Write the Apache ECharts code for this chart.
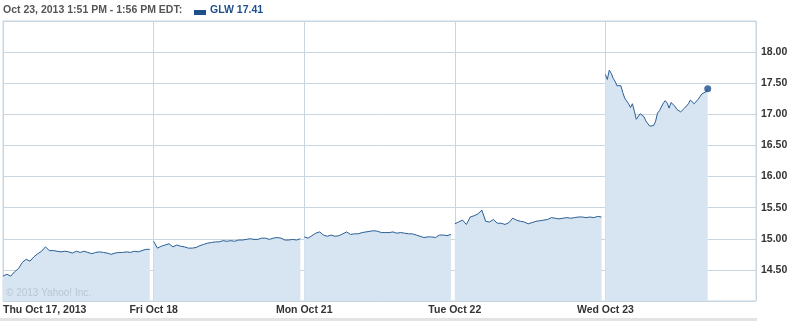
<!DOCTYPE html>
<html>
<head>
<meta charset="utf-8">
<script src="https://cdn.jsdelivr.net/npm/echarts@6/dist/echarts.min.js"></script>
<style>
html,body{margin:0;padding:0;background:#fff;}
#chart{width:799px;height:321px;}
</style>
</head>
<body>
<div id="chart"></div>
<script>
// ---- data ----
const dayLabels = ['Thu Oct 17, 2013', 'Fri Oct 18', 'Mon Oct 21', 'Tue Oct 22', 'Wed Oct 23'];
const yTicks = ['14.50', '15.00', '15.50', '16.00', '16.50', '17.00', '17.50', '18.00'];
const sessionMinutes = 390; // 9:30 - 16:00
const stepMinutes = [10, 10, 10, 10, 5];

const thu = [14.40, 14.43, 14.40, 14.47, 14.52, 14.62, 14.67, 14.64, 14.71, 14.76,
             14.80, 14.87, 14.81, 14.81, 14.80, 14.79, 14.80, 14.79, 14.77, 14.80,
             14.78, 14.80, 14.78, 14.76, 14.78, 14.79, 14.78, 14.77, 14.75, 14.77,
             14.78, 14.78, 14.79, 14.78, 14.80, 14.79, 14.81, 14.83, 14.83];
const fri = [14.96, 14.85, 14.88, 14.90, 14.92, 14.87, 14.90, 14.88, 14.87, 14.85,
             14.85, 14.86, 14.89, 14.91, 14.93, 14.94, 14.95, 14.95, 14.97, 14.96,
             14.97, 14.96, 14.98, 14.98, 14.99, 15.00, 14.99, 14.99, 15.01, 15.01,
             14.99, 15.01, 15.02, 15.01, 14.98, 14.98, 14.99, 14.98, 15.00];
const mon = [15.03, 15.01, 15.05, 15.09, 15.11, 15.06, 15.04, 15.06, 15.04, 15.05,
             15.08, 15.11, 15.07, 15.08, 15.08, 15.10, 15.11, 15.12, 15.13, 15.12,
             15.10, 15.10, 15.10, 15.11, 15.09, 15.10, 15.09, 15.08, 15.08, 15.06,
             15.04, 15.02, 15.03, 15.03, 15.02, 15.06, 15.06, 15.05, 15.07];
const tue = [15.24, 15.27, 15.30, 15.23, 15.35, 15.37, 15.40, 15.46, 15.28, 15.27,
             15.31, 15.25, 15.25, 15.23, 15.26, 15.33, 15.30, 15.28, 15.27, 15.24,
             15.26, 15.28, 15.29, 15.30, 15.31, 15.34, 15.33, 15.32, 15.33, 15.34,
             15.33, 15.34, 15.35, 15.35, 15.34, 15.35, 15.34, 15.36, 15.35];
const wed = [17.64, 17.56, 17.71, 17.66, 17.58, 17.53, 17.46, 17.44, 17.46, 17.35,
             17.26, 17.24, 17.17, 17.11, 17.17, 17.05, 16.92, 16.90, 17.01, 17.04,
             16.96, 16.89, 16.86, 16.81, 16.78, 16.82, 16.89, 17.02, 17.06, 17.08,
             17.18, 17.22, 17.18, 17.10, 17.19, 17.17, 17.13, 17.08, 17.07, 17.04,
             17.02, 17.10, 17.12, 17.17, 17.23, 17.20, 17.17, 17.18, 17.24, 17.27,
             17.33, 17.34, 17.36, 17.41];
const days = [thu, fri, mon, tue, wed];
const headerText = 'Oct 23, 2013 1:51 PM - 1:56 PM EDT:';
const symbolName = 'GLW';
const copyright = '\u00a9 2013 Yahoo! Inc.';

// ---- chart ----
const lineColor = '#2b5f95';
const fillColor = '#d6e5f1';
const gridColor = '#c9d6e0';
const font = '"Liberation Sans", Arial, sans-serif';

const series = days.map((vals, d) => ({
  type: 'line',
  data: vals.map((v, i) => [d + i * stepMinutes[d] / sessionMinutes, v]),
  showSymbol: false,
  symbol: 'none',
  lineStyle: { color: lineColor, width: 1 },
  areaStyle: { color: fillColor, opacity: 1 },
  silent: true,
  animation: false
}));
const lastDay = days.length - 1;
const lastVals = days[lastDay];
const lastPoint = [lastDay + (lastVals.length - 1) * stepMinutes[lastDay] / sessionMinutes, lastVals[lastVals.length - 1]];
series.push({
  type: 'scatter',
  data: [lastPoint],
  symbol: 'circle',
  symbolSize: 7,
  itemStyle: { color: '#1d4f8b' },
  silent: true,
  animation: false,
  z: 5
});

const chart = echarts.init(document.getElementById('chart'), null, { renderer: 'canvas' });
chart.setOption({
  animation: false,
  backgroundColor: '#ffffff',
  grid: { left: 1, right: 43, top: 21, bottom: 20, show: true, borderColor: gridColor, borderWidth: 1, backgroundColor: 'transparent' },
  xAxis: {
    type: 'value', min: 0, max: 5, interval: 1,
    axisLine: { show: false }, axisTick: { show: false },
    splitLine: { show: true, lineStyle: { color: gridColor, width: 1 } },
    axisLabel: {
      margin: 4, color: '#333', fontFamily: font, fontWeight: 'bold', fontSize: 10.5,
      alignMinLabel: 'left',
      formatter: v => (dayLabels[Math.round(v)] || '')
    }
  },
  yAxis: {
    type: 'value', position: 'right', min: 14, max: 18.5, interval: 0.5,
    axisLine: { show: false }, axisTick: { show: false },
    splitLine: { show: true, lineStyle: { color: gridColor, width: 1 } },
    axisLabel: {
      margin: 5, color: '#333', fontFamily: font, fontWeight: 'bold', fontSize: 10.5,
      formatter: v => { const s = v.toFixed(2); return yTicks.indexOf(s) >= 0 ? s : ''; }
    }
  },
  series: series,
  graphic: [
    { type: 'text', left: 3, top: 5, style: { text: headerText, fill: '#555', font: 'bold 10.5px ' + font } },
    { type: 'rect', shape: { x: 194, y: 10, width: 12, height: 5 }, style: { fill: '#1d4f8b' } },
    { type: 'text', left: 210, top: 5, style: { text: symbolName + ' ' + lastVals[lastVals.length - 1].toFixed(2), fill: '#1d4f8b', font: 'bold 10.5px ' + font } },
    { type: 'text', left: 6, top: 288, z: 10, style: { text: copyright, fill: '#b9c6d2', font: '10px ' + font } },
    { type: 'rect', shape: { x: 0, y: 318, width: 757, height: 3 }, style: { fill: '#e3e3e3' } }
  ]
});
</script>
</body>
</html>
